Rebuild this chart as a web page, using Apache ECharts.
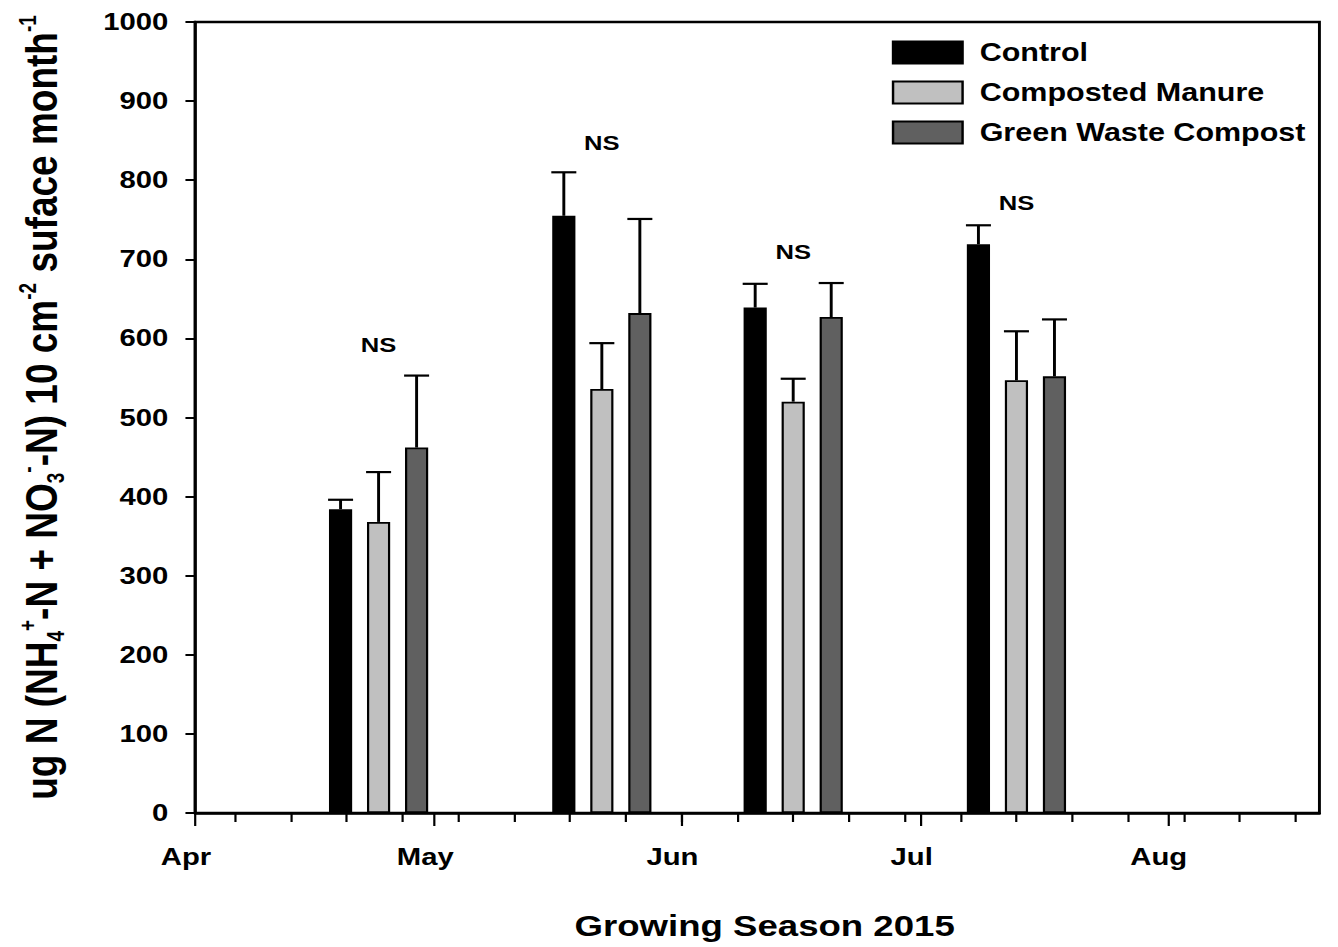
<!DOCTYPE html>
<html>
<head>
<meta charset="utf-8">
<title>Growing Season 2015</title>
<script src="https://cdn.jsdelivr.net/npm/echarts@6/dist/echarts.min.js"></script>
<style>
  html, body { margin: 0; padding: 0; background: #fff; overflow: hidden; }
  #wrap { width: 1338px; height: 947px; overflow: hidden; }
  /* the plot is laid out narrower and widened horizontally, like the original export */
  #chart { width: 1097px; height: 947px; transform: scaleX(1.22); transform-origin: 0 0; }
</style>
</head>
<body>
<div id="wrap"><div id="chart"></div></div>
<script>
// Sampling dates (group centres) and treatment means with standard errors
const sampleDates = ['2015-04-24', '2015-05-22', '2015-06-15', '2015-07-13'];
const control = [384, 755, 639, 719];
const controlSE = [12, 55, 30, 24];
const manure = [368, 536, 520, 547];
const manureSE = [63, 58, 29, 62];
const greenWaste = [462, 632, 627, 552];
const greenWasteSE = [91, 119, 43, 72];
// Height of the "NS" (not significant) note above each date
const nsLevels = [592, 847, 710, 771];

// Month ticks and their labels
const monthStarts = ['2015-04-01', '2015-05-01', '2015-06-01', '2015-07-01', '2015-08-01'];
const monthLabels = ['Apr', 'May', 'Jun', 'Jul', 'Aug'];
const axisStart = '2015-04-01';
const axisEnd = '2015-08-20';
const firstMonday = '2015-04-06';

const seriesNames = ['Control', 'Composted Manure', 'Green Waste Compost'];
const seriesColors = ['#000000', '#c0c0c0', '#606060'];

const DAY = 86400000;
function ts(s) {
  const p = s.split('-').map(Number);
  return Date.UTC(p[0], p[1] - 1, p[2]);
}
const sampleTimes = sampleDates.map(ts);
const monthTimes = monthStarts.map(ts);
const xMin = ts(axisStart);
const xMax = ts(axisEnd);
const weekTicks = [];
for (let t = ts(firstMonday); t <= xMax; t += 7 * DAY) weekTicks.push(t);

const FONT = '"Liberation Sans", Arial, sans-serif';
const BAR_W = 19;
const BAR_GAP = 0.64;
const BAR_STEP = BAR_W * (1 + BAR_GAP);
const CAP_W = 20.5;

function barSeries(k, values) {
  return {
    type: 'bar',
    name: seriesNames[k],
    xAxisIndex: 0,
    yAxisIndex: 0,
    barWidth: BAR_W,
    barGap: (BAR_GAP * 100) + '%',
    itemStyle: { color: seriesColors[k], borderColor: '#000', borderWidth: 1.8 },
    data: sampleTimes.map((t, i) => [t, values[i]]),
    z: 2
  };
}

function errorSeries(k, values, errs) {
  const slot = k - 1;
  return {
    type: 'custom',
    name: seriesNames[k] + ' SE',
    xAxisIndex: 0,
    yAxisIndex: 0,
    z: 3,
    data: sampleTimes.map((t, i) => [t, values[i], errs[i]]),
    renderItem: function (params, api) {
      const base = api.coord([api.value(0), api.value(1)]);
      const top = api.coord([api.value(0), api.value(1) + api.value(2)]);
      const x = base[0] + slot * BAR_STEP;
      return {
        type: 'group',
        children: [
          { type: 'line', shape: { x1: x, y1: base[1], x2: x, y2: top[1] },
            style: { stroke: '#000', lineWidth: 2.4 } },
          { type: 'line', shape: { x1: x - CAP_W / 2, y1: top[1], x2: x + CAP_W / 2, y2: top[1] },
            style: { stroke: '#000', lineWidth: 2.2 } }
        ]
      };
    }
  };
}

const chart = echarts.init(document.getElementById('chart'), null, { renderer: 'svg' });

const option = {
  animation: false,
  backgroundColor: '#ffffff',
  grid: {
    left: 160, right: 15.5, top: 22, bottom: 134,
    show: true, borderColor: '#000', borderWidth: 2.4, backgroundColor: 'transparent'
  },
  legend: {
    data: seriesNames,
    orient: 'vertical',
    left: 726,
    top: 35,
    itemWidth: 57,
    itemHeight: 22,
    itemGap: 15,
    icon: 'rect',
    selectedMode: false,
    textStyle: { fontFamily: FONT, fontWeight: 'bold', fontSize: 25, color: '#000', lineHeight: 22, padding: [0, 0, 0, 9] }
  },
  xAxis: [
    {
      type: 'value',
      min: xMin,
      max: xMax,
      name: 'Growing Season 2015',
      nameLocation: 'middle',
      nameGap: 98,
      nameTextStyle: { fontFamily: FONT, fontWeight: 'bold', fontSize: 30, color: '#000', padding: [0, 0, 0, 12] },
      axisLine: { show: true, onZero: false, lineStyle: { color: '#000', width: 2.5 } },
      axisTick: { show: true, inside: false, length: 13, customValues: monthTimes, lineStyle: { color: '#000', width: 1.8 } },
      axisLabel: {
        show: true,
        customValues: monthTimes,
        margin: 32,
        padding: [0, 15, 0, 0],
        fontFamily: FONT, fontWeight: 'bold', fontSize: 24, color: '#000',
        formatter: function (v) {
          const i = monthTimes.indexOf(v);
          return i >= 0 ? monthLabels[i] : '';
        }
      },
      splitLine: { show: false }
    },
    {
      type: 'value',
      min: xMin,
      max: xMax,
      position: 'bottom',
      axisLine: { show: false, onZero: false },
      axisTick: { show: true, inside: false, length: 9, customValues: weekTicks, lineStyle: { color: '#000', width: 1.8 } },
      axisLabel: { show: false },
      splitLine: { show: false }
    }
  ],
  yAxis: {
    type: 'value',
    min: 0,
    max: 1000,
    interval: 100,
    name: 'ug N (NH{sb|4}{sp|+}-N + NO{sb|3}{sp|-}-N) 10 cm{sp|-2} suface month{sp|-1}',
    nameLocation: 'middle',
    nameRotate: 90,
    nameGap: 105,
    nameTextStyle: {
      fontFamily: FONT, fontWeight: 'bold', fontSize: 37, color: '#000', lineHeight: 42,
      padding: [0, 0, 0, 20],
      rich: {
        sp: { fontFamily: FONT, fontWeight: 'bold', fontSize: 19, color: '#000', lineHeight: 19, verticalAlign: 'top' },
        sb: { fontFamily: FONT, fontWeight: 'bold', fontSize: 19, color: '#000', lineHeight: 19, verticalAlign: 'bottom' }
      }
    },
    axisLine: { show: true, lineStyle: { color: '#000', width: 2.4 } },
    axisTick: { show: true, inside: false, length: 8, lineStyle: { color: '#000', width: 2 } },
    axisLabel: {
      margin: 22, fontFamily: FONT, fontWeight: 'bold', fontSize: 24, color: '#000',
      formatter: function (v) { return String(v); }
    },
    splitLine: { show: false }
  },
  series: [
    barSeries(0, control),
    barSeries(1, manure),
    barSeries(2, greenWaste),
    errorSeries(0, control, controlSE),
    errorSeries(1, manure, manureSE),
    errorSeries(2, greenWaste, greenWasteSE),
    {
      type: 'scatter',
      name: 'NS',
      xAxisIndex: 0,
      yAxisIndex: 0,
      symbol: 'circle',
      symbolSize: 1,
      itemStyle: { color: 'rgba(0,0,0,0)' },
      z: 4,
      label: {
        show: true, position: 'inside', formatter: 'NS',
        fontFamily: FONT, fontWeight: 'bold', fontSize: 21,
        color: '#000', opacity: 1, textBorderWidth: 0, textBorderColor: 'transparent'
      },
      data: sampleTimes.map((t, i) => [t, nsLevels[i]])
    }
  ]
};

chart.setOption(option);
</script>
</body>
</html>
